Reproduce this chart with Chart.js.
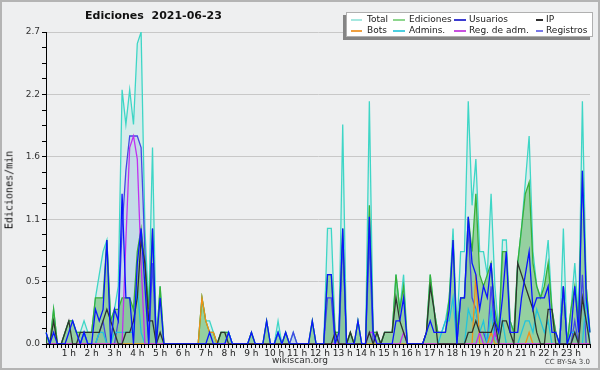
<!DOCTYPE html>
<html>
<head>
<meta charset="utf-8">
<script src="https://cdn.jsdelivr.net/npm/chart.js@4.4.0/dist/chart.umd.min.js"></script>
<style>
  html, body { margin: 0; padding: 0; background: #eeeff0; }
  #wrap { position: relative; width: 600px; height: 370px; background: #eeeff0; overflow: hidden; }
  #frame { position: absolute; left: 0; top: 0; width: 600px; height: 370px; box-sizing: border-box; border: 2px solid #b4b4b4; pointer-events: none; }
  canvas { position: absolute; left: 0; top: 0; }
  #title { position: absolute; left: 85px; top: 9px; font: bold 11px "DejaVu Sans"; color: #111; white-space: pre; }
  #ytitle { position: absolute; left: 9px; top: 190px; transform: translate(-50%, -50%) rotate(-90deg); font: 10px "DejaVu Sans Mono"; color: #111; white-space: nowrap; }
  #site { position: absolute; left: 300px; top: 355px; transform: translateX(-50%); font: 9px "DejaVu Sans"; color: #333; white-space: nowrap; }
  #cc { position: absolute; right: 10px; top: 358px; font: 7px "DejaVu Sans"; color: #444; white-space: nowrap; }
  #legend { position: absolute; left: 346px; top: 12px; width: 245px; height: 23px; background: #fff; border: 1px solid #b0b0b0; box-shadow: -3px 3px 0 #858585; }
  .item { position: absolute; font: 9px "DejaVu Sans"; color: #222; white-space: nowrap; line-height: 10px; }
  .item i { position: absolute; top: 5px; height: 1.5px; }
</style>
</head>
<body>
<div id="wrap">
  <canvas id="chart" width="600" height="370"></canvas>
  <div id="title">Ediciones  2021-06-23</div>
  <div id="ytitle">Ediciones/min</div>
  <div id="site">wikiscan.org</div>
  <div id="cc">CC BY-SA 3.0</div>
  <div id="legend"></div>
  <div id="frame"></div>
</div>
<script>
// one point every 10 minutes, values in edits per minute
const hourLabels = ['', '1 h', '2 h', '3 h', '4 h', '5 h', '6 h', '7 h', '8 h', '9 h', '10 h', '11 h',
  '12 h', '13 h', '14 h', '15 h', '16 h', '17 h', '18 h', '19 h', '20 h', '21 h', '22 h', '23 h'];
const yTickLabels = ['0.0', '0.5', '1.1', '1.6', '2.2', '2.7'];

const total = [
  0.1,0,0.3,0,0,0.1, 0.2,0.2,0.1,0.1,0.2,0.1, 0.1,0.4,0.6,0.8,0.9,0.2, 0.3,0.5,2.2,1.9,2.2,1.9,
  2.6,2.7,1.0,0.3,1.7,0, 0.5,0,0,0,0,0, 0,0,0,0,0,0.4, 0.2,0.2,0.1,0,0.1,0.1,
  0.1,0,0,0,0,0, 0.1,0,0,0,0.2,0, 0,0.2,0,0.1,0,0.1, 0,0,0,0,0.2,0,
  0,0,1.0,1.0,0.1,0.1, 1.9,0,0.1,0,0.2,0, 0,2.1,0.1,0.1,0,0.1, 0.1,0.1,0.6,0.3,0.6,0,
  0,0,0,0,0.1,0.6, 0.3,0.1,0.1,0.2,0.4,1.0, 0.1,0.8,0.8,2.1,1.2,1.6, 0.8,0.8,0.6,1.3,0.5,0.1,
  0.9,0.9,0.2,0.1,0.7,1.0, 1.4,1.8,0.8,0.5,0.4,0.6, 0.9,0.3,0.1,0,1.0,0, 0.3,0.7,0.2,2.1,0.5,0.1
];
const ediciones = [
  0.1,0,0.3,0,0,0.1, 0.2,0.2,0.1,0.1,0.1,0.1, 0.1,0.4,0.4,0.4,0.9,0.2, 0.3,0.3,0.4,0.4,0.4,0.3,
  0.8,1.0,0.7,0.3,1.0,0, 0.5,0,0,0,0,0, 0,0,0,0,0,0.4, 0.2,0.1,0.1,0,0.1,0.1,
  0.1,0,0,0,0,0, 0.1,0,0,0,0.2,0, 0,0.1,0,0.1,0,0, 0,0,0,0,0.2,0,
  0,0,0.6,0.6,0.1,0.1, 1.0,0,0.1,0,0.2,0, 0,1.2,0.1,0.1,0,0.1, 0.1,0.1,0.6,0.3,0.5,0,
  0,0,0,0,0.1,0.6, 0.3,0.1,0.1,0.1,0.4,0.9, 0.1,0.4,0.4,1.1,0.8,1.3, 0.6,0.5,0.6,0.7,0.3,0.1,
  0.8,0.8,0.2,0.1,0.7,1.0, 1.3,1.4,0.7,0.5,0.4,0.5, 0.7,0.3,0.1,0,0.5,0, 0.3,0.5,0.2,1.5,0.5,0.1
];
const usuarios = [
  0.1,0,0.1,0,0,0, 0.1,0.2,0.1,0,0.1,0, 0,0.3,0.2,0.3,0.9,0, 0.3,0.2,1.3,0.4,0.4,0,
  0.7,1.0,0.5,0,1.0,0, 0.4,0,0,0,0,0, 0,0,0,0,0,0, 0,0.1,0,0,0,0,
  0.1,0,0,0,0,0, 0.1,0,0,0,0.2,0, 0,0.1,0,0.1,0,0, 0,0,0,0,0.2,0,
  0,0,0.6,0.6,0,0.1, 1.0,0,0,0,0.2,0, 0,1.1,0.1,0,0,0, 0,0,0.2,0.2,0.4,0,
  0,0,0,0,0.1,0.2, 0.1,0.1,0.1,0.1,0.3,0.9, 0,0.4,0.4,1.1,0.7,0.6, 0.3,0.5,0.4,0.7,0.2,0.1,
  0.4,0.8,0.1,0.1,0.1,0.4, 0.6,0.8,0.3,0.4,0.4,0.4, 0.5,0.1,0.1,0,0.5,0, 0.1,0.5,0.1,1.5,0.4,0.1
];
const ip = [
  0,0,0.2,0,0,0.1, 0.2,0,0,0.1,0.1,0.1, 0.1,0.1,0.1,0.2,0.3,0.2, 0.1,0,0,0.1,0.1,0.2,
  0.4,0.9,0.7,0.2,0.2,0, 0.1,0,0,0,0,0, 0,0,0,0,0,0, 0,0,0,0,0.1,0.1,
  0,0,0,0,0,0, 0,0,0,0,0,0, 0,0,0,0,0,0, 0,0,0,0,0,0,
  0,0,0,0,0.1,0, 0,0,0.1,0,0,0, 0,0.1,0,0.1,0,0.1, 0.1,0.1,0.4,0.2,0.1,0,
  0,0,0,0,0.1,0.5, 0.3,0,0,0,0,0, 0,0,0,0.1,0.1,0.2, 0.1,0.1,0.1,0.1,0.2,0,
  0.2,0.2,0.1,0,0.7,0.6, 0.5,0.4,0.3,0.1,0,0, 0.3,0.3,0,0,0,0, 0,0.1,0,0.4,0.2,0
];
const bots = [
  0,0,0,0,0,0, 0,0,0,0,0,0, 0,0,0,0,0,0, 0,0,0,0,0,0,
  0,0,0,0,0,0, 0,0,0,0,0,0, 0,0,0,0,0,0.4, 0.2,0.1,0.1,0,0,0,
  0,0,0,0,0,0, 0,0,0,0,0,0, 0,0,0,0,0,0, 0,0,0,0,0,0,
  0,0,0,0,0,0, 0,0,0,0,0,0, 0,0,0,0,0,0, 0,0,0,0,0,0,
  0,0,0,0,0,0, 0,0,0,0,0,0, 0,0,0,0,0,0.6, 0,0,0,0.1,0,0,
  0,0,0,0,0,0, 0,0.1,0,0,0,0, 0,0,0,0,0,0, 0,0,0,0,0,0
];
const admins = [
  0,0,0,0,0,0, 0,0,0,0,0.1,0, 0,0,0.1,0.1,0,0, 0.1,0.1,0.1,0.1,0.1,0.1,
  0.5,0.1,0,0,0,0, 0,0,0,0,0,0, 0,0,0,0,0,0, 0,0,0,0,0,0,
  0.1,0,0,0,0,0, 0,0,0,0,0,0, 0,0.1,0,0,0,0, 0,0,0,0,0,0,
  0,0,0,0,0,0, 0,0,0,0,0,0, 0,0,0,0,0,0, 0,0,0,0,0,0,
  0,0,0,0,0,0, 0,0,0.1,0.2,0.2,0.4, 0,0,0,0.3,0.2,0.3, 0.1,0.2,0,0.3,0,0,
  0.2,0,0,0,0,0.1, 0.2,0.2,0.1,0.3,0.2,0.1, 0.2,0,0,0,0,0, 0.1,0.1,0,0,0.4,0
];
const regAdm = [
  0,0,0,0,0,0, 0,0,0,0,0,0, 0,0,0,0,0,0, 0,0,0,0.9,1.7,1.8,
  1.6,0.7,0,0,0,0, 0,0,0,0,0,0, 0,0,0,0,0,0, 0,0,0,0,0,0,
  0,0,0,0,0,0, 0,0,0,0,0,0, 0,0,0,0,0,0, 0,0,0,0,0,0,
  0,0,0,0,0,0, 0,0,0,0,0,0, 0,0.1,0.1,0,0,0, 0,0,0,0,0.1,0,
  0,0,0,0,0,0, 0,0,0,0,0,0, 0,0,0,0,0,0, 0.1,0,0,0,0.1,0,
  0,0,0,0,0,0, 0,0,0,0,0,0, 0,0,0,0,0,0, 0,0,0,0,0,0
];
const registros = [
  0,0,0,0,0,0, 0,0,0,0,0.1,0, 0,0,0.1,0.2,0,0, 0,0.2,1.0,1.5,1.8,1.8,
  1.8,1.7,0.8,0,0.7,0, 0,0,0,0,0,0, 0,0,0,0,0,0, 0,0,0,0,0,0,
  0,0,0,0,0,0, 0,0,0,0,0,0, 0,0,0,0,0,0.1, 0,0,0,0,0,0,
  0,0,0.4,0.4,0,0, 0.9,0,0,0,0,0, 0,0.9,0,0,0,0, 0,0,0,0,0,0,
  0,0,0,0,0,0, 0,0,0,0,0,0, 0,0.4,0.4,1.0,0.4,0.3, 0.1,0.1,0,0.5,0.1,0,
  0,0,0,0,0,0, 0,0,0,0,0,0, 0,0,0,0,0.5,0, 0,0.2,0,0.6,0,0
];

const timeLabels = [];
for (let h = 0; h < 24; h++) {
  for (let m = 0; m < 60; m += 10) {
    timeLabels.push(String(h).padStart(2, '0') + ':' + String(m).padStart(2, '0'));
  }
}

const series = [
  { label: 'Total', data: total, color: '#3ed6c6', legend: '#a6e8e0', fill: 'rgba(64,216,200,0.13)', order: 10 },
  { label: 'Registros', data: registros, color: '#4646e6', legend: '#7878e8', fill: 'rgba(103,129,209,0.15)', order: 9 },
  { label: 'Ediciones', data: ediciones, color: '#38b038', legend: '#8ed68e', fill: 'rgba(64,172,64,0.44)', order: 8 },
  { label: 'Admins.', data: admins, color: '#22c4dc', legend: '#4ccfe0', order: 7 },
  { label: 'Bots', data: bots, color: '#f09018', legend: '#f0a040', order: 6 },
  { label: 'Reg. de adm.', data: regAdm, color: '#c030f0', legend: '#c850e0', order: 5 },
  { label: 'IP', data: ip, color: '#2e342e', legend: '#303030', order: 4 },
  { label: 'Usuarios', data: usuarios, color: '#0a14ff', legend: '#3c3cd0', order: 3 }
];

const datasets = series.map(s => ({
  label: s.label,
  data: s.data,
  borderColor: s.color,
  backgroundColor: s.fill || 'rgba(0,0,0,0)',
  fill: s.fill ? 'origin' : false,
  borderWidth: 1.3,
  pointRadius: 0,
  tension: 0,
  order: s.order
}));

// legend box, same layout as the picture
const legendOrder = ['Total', 'Ediciones', 'Usuarios', 'IP', 'Bots', 'Admins.', 'Reg. de adm.', 'Registros'];
const colX = [[4, 11, 20], [46, 12, 62], [107, 12, 122], [189, 7, 199]];
const legend = document.getElementById('legend');
legendOrder.forEach((name, k) => {
  const s = series.find(d => d.label === name);
  const col = colX[k % 4];
  const row = Math.floor(k / 4);
  const el = document.createElement('div');
  el.className = 'item';
  el.style.left = col[0] + 'px';
  el.style.top = (row === 0 ? 1 : 12) + 'px';
  el.style.paddingLeft = (col[2] - col[0]) + 'px';
  el.innerHTML = '<i style="left:0;width:' + col[1] + 'px;background:' + s.legend + '"></i>' + name;
  legend.appendChild(el);
});

const ctx = document.getElementById('chart').getContext('2d');
new Chart(ctx, {
  type: 'line',
  data: { labels: timeLabels, datasets: datasets },
  options: {
    responsive: false,
    animation: false,
    layout: { padding: { top: 32, right: 10, left: 0, bottom: 0 } },
    plugins: {
      legend: { display: false },
      tooltip: { enabled: false },
      filler: { drawTime: 'beforeDatasetsDraw' }
    },
    scales: {
      x: {
        type: 'category',
        offset: false,
        afterFit: s => { s.height = 26; },
        grid: { drawOnChartArea: false, drawTicks: true, tickLength: 4, color: '#000', offset: false },
        border: { color: '#000', width: 1 },
        ticks: {
          autoSkip: false, maxRotation: 0, minRotation: 0, padding: 0,
          font: { family: 'DejaVu Sans', size: 9 }, color: '#222',
          callback: (v, i) => (i % 6 === 0 ? hourLabels[i / 6] : '')
        }
      },
      y: {
        min: 0,
        max: 2.7,
        afterFit: s => { s.width = 46; },
        grid: {
          color: c => (c.index % 4 === 0 && c.index > 0 ? '#c8c8c8' : 'rgba(0,0,0,0)'),
          tickColor: '#000',
          tickLength: 4
        },
        border: { color: '#000', width: 1 },
        ticks: {
          stepSize: 0.135, autoSkip: false, padding: 2,
          font: { family: 'DejaVu Sans', size: 9 }, color: '#333',
          callback: (v, i) => (i % 4 === 0 ? yTickLabels[i / 4] : '')
        }
      }
    }
  }
});
</script>
</body>
</html>
